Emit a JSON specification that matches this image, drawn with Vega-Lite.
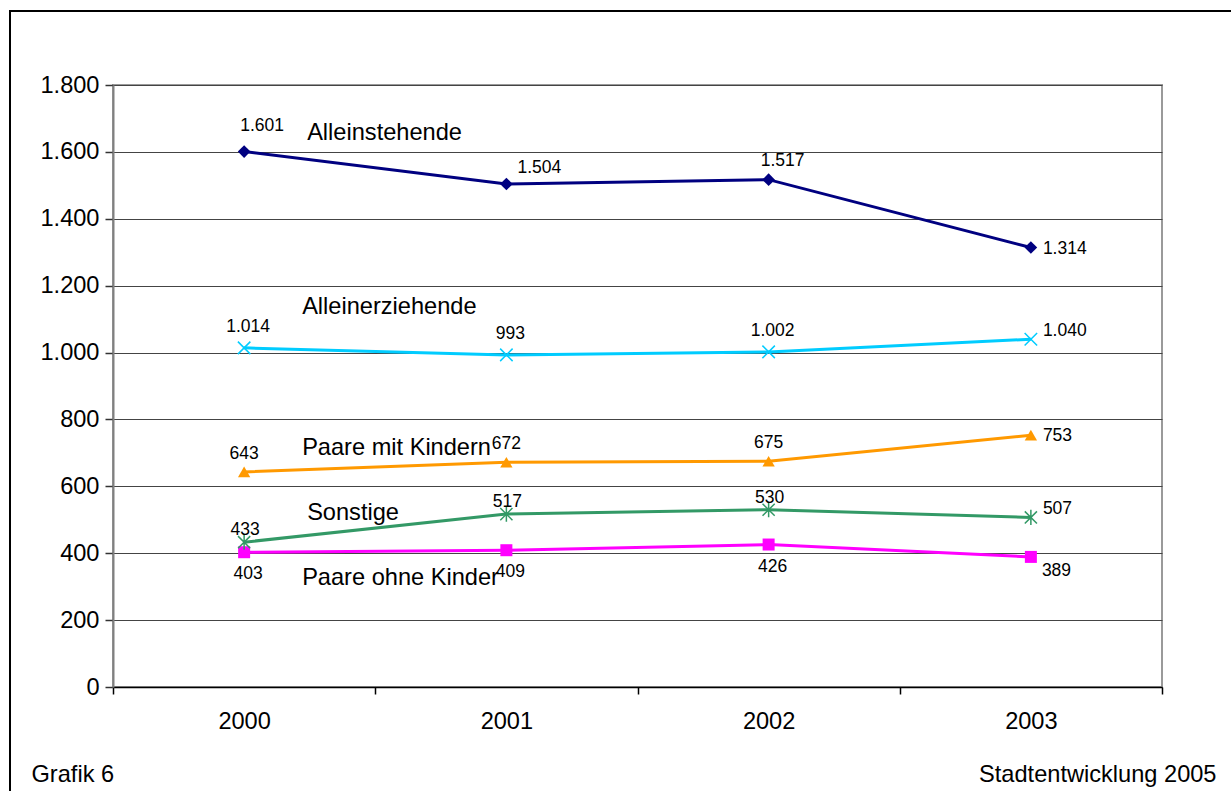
{
  "$schema": "https://vega.github.io/schema/vega-lite/v6.json",
  "width": 1049,
  "height": 602,
  "autosize": "none",
  "padding": {"left": 113, "top": 85, "right": 69, "bottom": 104},
  "background": "white",
  "config": {
    "locale": {"number": {"decimal": ",", "thousands": ".", "grouping": [3], "currency": ["", " €"]}},
    "font": "Liberation Sans",
    "view": {"stroke": "#9a9a9a", "strokeWidth": 2},
    "text": {"font": "Liberation Sans", "color": "black"}
  },
  "data": {
    "values": [
      {"series": "Alleinstehende", "year": 2000, "value": 1601},
      {"series": "Alleinstehende", "year": 2001, "value": 1504},
      {"series": "Alleinstehende", "year": 2002, "value": 1517},
      {"series": "Alleinstehende", "year": 2003, "value": 1314},
      {"series": "Alleinerziehende", "year": 2000, "value": 1014},
      {"series": "Alleinerziehende", "year": 2001, "value": 993},
      {"series": "Alleinerziehende", "year": 2002, "value": 1002},
      {"series": "Alleinerziehende", "year": 2003, "value": 1040},
      {"series": "Paare mit Kindern", "year": 2000, "value": 643},
      {"series": "Paare mit Kindern", "year": 2001, "value": 672},
      {"series": "Paare mit Kindern", "year": 2002, "value": 675},
      {"series": "Paare mit Kindern", "year": 2003, "value": 753},
      {"series": "Sonstige", "year": 2000, "value": 433},
      {"series": "Sonstige", "year": 2001, "value": 517},
      {"series": "Sonstige", "year": 2002, "value": 530},
      {"series": "Sonstige", "year": 2003, "value": 507},
      {"series": "Paare ohne Kinder", "year": 2000, "value": 403},
      {"series": "Paare ohne Kinder", "year": 2001, "value": 409},
      {"series": "Paare ohne Kinder", "year": 2002, "value": 426},
      {"series": "Paare ohne Kinder", "year": 2003, "value": 389}
    ]
  },
  "layer": [
    {
      "data": {"values": [{}]},
      "mark": {"type": "rect", "stroke": "black", "strokeWidth": 2, "fillOpacity": 0, "fill": "white"},
      "encoding": {
        "x": {"value": -103},
        "x2": {"value": 1300},
        "y": {"value": -74},
        "y2": {"value": 900}
      }
    },
    {
      "encoding": {
        "x": {
          "field": "year",
          "type": "quantitative",
          "scale": {"domain": [1999.5, 2003.5], "nice": false, "zero": false},
          "axis": {
            "values": [1999.5, 2000, 2000.5, 2001, 2001.5, 2002, 2002.5, 2003, 2003.5],
            "labelExpr": "datum.value % 1 ? '' : format(datum.value, 'd')",
            "tickOpacity": {"condition": {"test": "datum.value % 1 === 0", "value": 0}, "value": 1},
            "grid": false,
            "domainColor": "black",
            "domainWidth": 1.5,
            "tickColor": "black",
            "tickWidth": 1.5,
            "tickSize": 7,
            "labelPadding": 15,
            "labelFontSize": 23.6,
            "labelColor": "black",
            "labelFlush": false,
            "labelOverlap": false,
            "title": "Stadtentwicklung 2005",
            "titleX": 1103,
            "titleY": 94,
            "titleAlign": "right",
            "titleBaseline": "alphabetic",
            "titleFontSize": 23.6,
            "titleFontWeight": "normal",
            "titleColor": "black"
          }
        },
        "y": {
          "field": "value",
          "type": "quantitative",
          "scale": {"domain": [0, 1800], "nice": false},
          "axis": {
            "values": [0, 200, 400, 600, 800, 1000, 1200, 1400, 1600, 1800],
            "format": ",d",
            "tickSize": 8,
            "tickColor": "#333333",
            "tickWidth": 1.5,
            "labelPadding": 6,
            "labelFontSize": 23.6,
            "labelColor": "black",
            "labelFlush": false,
            "domainColor": "#808080",
            "domainWidth": 2,
            "gridColor": "#444444",
            "gridWidth": 1,
            "title": "Grafik 6",
            "titleAngle": 0,
            "titleX": -82,
            "titleY": 696,
            "titleAlign": "left",
            "titleBaseline": "alphabetic",
            "titleFontSize": 23.6,
            "titleFontWeight": "normal",
            "titleColor": "black"
          }
        }
      },
      "layer": [
        {
          "mark": {"type": "line", "strokeWidth": 3},
          "encoding": {
            "color": {
              "field": "series",
              "type": "nominal",
              "scale": {
                "domain": ["Alleinstehende", "Alleinerziehende", "Paare mit Kindern", "Sonstige", "Paare ohne Kinder"],
                "range": ["#000080", "#00CCFF", "#FF9900", "#339966", "#FF00FF"]
              },
              "legend": null
            }
          }
        },
        {
          "transform": [{"filter": {"field": "series", "oneOf": ["Alleinstehende", "Paare mit Kindern", "Paare ohne Kinder"]}}],
          "mark": {"type": "point", "filled": true, "opacity": 1},
          "encoding": {
            "color": {"field": "series", "type": "nominal", "legend": null},
            "shape": {
              "field": "series",
              "type": "nominal",
              "scale": {
                "domain": ["Alleinstehende", "Alleinerziehende", "Paare mit Kindern", "Sonstige", "Paare ohne Kinder"],
                "range": ["diamond", "M-1,-1L1,1M-1,1L1,-1", "triangle-up", "M-1,-1L1,1M-1,1L1,-1M0,-1.25L0,1.25", "square"]
              },
              "legend": null
            },
            "size": {
              "field": "series",
              "type": "nominal",
              "scale": {
                "domain": ["Alleinstehende", "Alleinerziehende", "Paare mit Kindern", "Sonstige", "Paare ohne Kinder"],
                "range": [160, 144, 196, 144, 169]
              },
              "legend": null
            }
          }
        },
        {
          "transform": [{"filter": {"field": "series", "oneOf": ["Alleinerziehende", "Sonstige"]}}],
          "mark": {"type": "point", "filled": false, "opacity": 1, "strokeWidth": 1.5},
          "encoding": {
            "color": {"field": "series", "type": "nominal", "legend": null},
            "shape": {"field": "series", "type": "nominal", "legend": null},
            "size": {"field": "series", "type": "nominal", "legend": null}
          }
        },
        {
          "transform": [{"filter": "datum.year === 2000 && datum.series === 'Alleinstehende'"}],
          "mark": {"type": "text", "align": "left", "baseline": "alphabetic", "dx": 63, "dy": -12, "fontSize": 23.6},
          "encoding": {"text": {"field": "series"}}
        },
        {
          "transform": [{"filter": "datum.year === 2000 && datum.series === 'Alleinerziehende'"}],
          "mark": {"type": "text", "align": "left", "baseline": "alphabetic", "dx": 58, "dy": -34, "fontSize": 23.6},
          "encoding": {"text": {"field": "series"}}
        },
        {
          "transform": [{"filter": "datum.year === 2000 && datum.series === 'Paare mit Kindern'"}],
          "mark": {"type": "text", "align": "left", "baseline": "alphabetic", "dx": 58, "dy": -17, "fontSize": 23.6},
          "encoding": {"text": {"field": "series"}}
        },
        {
          "transform": [{"filter": "datum.year === 2000 && datum.series === 'Sonstige'"}],
          "mark": {"type": "text", "align": "left", "baseline": "alphabetic", "dx": 63, "dy": -22, "fontSize": 23.6},
          "encoding": {"text": {"field": "series"}}
        },
        {
          "transform": [{"filter": "datum.year === 2000 && datum.series === 'Paare ohne Kinder'"}],
          "mark": {"type": "text", "align": "left", "baseline": "alphabetic", "dx": 58, "dy": 33, "fontSize": 23.6},
          "encoding": {"text": {"field": "series"}}
        },
        {
          "transform": [{"filter": "datum.year === 2000 && datum.series === 'Alleinstehende'"}],
          "mark": {"type": "text", "align": "center", "baseline": "alphabetic", "dx": 18, "dy": -21, "fontSize": 17.5},
          "encoding": {"text": {"field": "value", "type": "quantitative", "format": ",d"}}
        },
        {
          "transform": [{"filter": "datum.year === 2001 && datum.series === 'Alleinstehende'"}],
          "mark": {"type": "text", "align": "center", "baseline": "alphabetic", "dx": 33, "dy": -11, "fontSize": 17.5},
          "encoding": {"text": {"field": "value", "type": "quantitative", "format": ",d"}}
        },
        {
          "transform": [{"filter": "datum.year === 2002 && datum.series === 'Alleinstehende'"}],
          "mark": {"type": "text", "align": "center", "baseline": "alphabetic", "dx": 14, "dy": -14, "fontSize": 17.5},
          "encoding": {"text": {"field": "value", "type": "quantitative", "format": ",d"}}
        },
        {
          "transform": [{"filter": "datum.year < 2003 && datum.series === 'Alleinerziehende'"}],
          "mark": {"type": "text", "align": "center", "baseline": "alphabetic", "dx": 4, "dy": -16, "fontSize": 17.5},
          "encoding": {"text": {"field": "value", "type": "quantitative", "format": ",d"}}
        },
        {
          "transform": [{"filter": "datum.year < 2003 && datum.series === 'Paare mit Kindern'"}],
          "mark": {"type": "text", "align": "center", "baseline": "alphabetic", "dx": 0, "dy": -13, "fontSize": 17.5},
          "encoding": {"text": {"field": "value", "type": "quantitative", "format": ",d"}}
        },
        {
          "transform": [{"filter": "datum.year < 2003 && datum.series === 'Sonstige'"}],
          "mark": {"type": "text", "align": "center", "baseline": "alphabetic", "dx": 1, "dy": -7, "fontSize": 17.5},
          "encoding": {"text": {"field": "value", "type": "quantitative", "format": ",d"}}
        },
        {
          "transform": [{"filter": "datum.year < 2003 && datum.series === 'Paare ohne Kinder'"}],
          "mark": {"type": "text", "align": "center", "baseline": "alphabetic", "dx": 4, "dy": 27, "fontSize": 17.5},
          "encoding": {"text": {"field": "value", "type": "quantitative", "format": ",d"}}
        },
        {
          "transform": [{"filter": "datum.year === 2003 && (datum.series === 'Alleinstehende' || datum.series === 'Paare mit Kindern')"}],
          "mark": {"type": "text", "align": "left", "baseline": "alphabetic", "dx": 12, "dy": 6, "fontSize": 17.5},
          "encoding": {"text": {"field": "value", "type": "quantitative", "format": ",d"}}
        },
        {
          "transform": [{"filter": "datum.year === 2003 && (datum.series === 'Alleinerziehende' || datum.series === 'Sonstige')"}],
          "mark": {"type": "text", "align": "left", "baseline": "alphabetic", "dx": 12, "dy": -3, "fontSize": 17.5},
          "encoding": {"text": {"field": "value", "type": "quantitative", "format": ",d"}}
        },
        {
          "transform": [{"filter": "datum.year === 2003 && datum.series === 'Paare ohne Kinder'"}],
          "mark": {"type": "text", "align": "left", "baseline": "alphabetic", "dx": 11, "dy": 19, "fontSize": 17.5},
          "encoding": {"text": {"field": "value", "type": "quantitative", "format": ",d"}}
        }
      ]
    }
  ]
}
